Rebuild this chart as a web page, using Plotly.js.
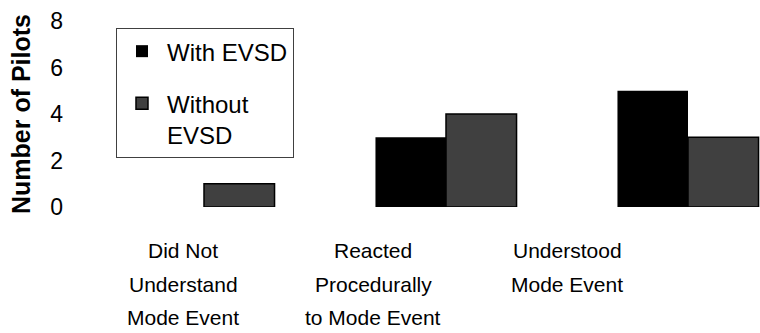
<!DOCTYPE html>
<html>
<head>
<meta charset="utf-8">
<script src="https://cdn.plot.ly/plotly-3.0.1.min.js"></script>
<style>html,body{margin:0;padding:0;background:#fff;}#chart{width:760px;height:333px;}</style>
</head>
<body>
<div id="chart"></div>
<script>
// ---- data ----
const categories = ["Did Not Understand Mode Event", "Reacted Procedurally to Mode Event", "Understood Mode Event"];
const categoryLabelLines = [
  ["Did Not", "Understand", "Mode Event"],
  ["Reacted", "Procedurally", "to Mode Event"],
  ["Understood", "Mode Event"]
];
const withEVSD = [0, 3, 5];
const withoutEVSD = [1, 4, 3];
const seriesNames = ["With EVSD", "Without<br>EVSD"];
const yTicks = [0, 2, 4, 6, 8];

// ---- styles ----
const FONT = "Liberation Sans, Arial, sans-serif";
const labelShiftX = [-21, -73, -121];
const lineShiftY = [-43, -77, -110];

const traces = [
  {type: "bar", x: categories, y: withEVSD, name: seriesNames[0], legendgroup: "a",
   marker: {color: "#000000", line: {color: "#000000", width: 0}}},
  {type: "bar", x: categories, y: withoutEVSD, name: seriesNames[1], legendgroup: "b",
   marker: {color: "#404040", line: {color: "#000000", width: 1.5}}}
];

const annotations = [];
categoryLabelLines.forEach((lines, i) => {
  lines.forEach((t, j) => {
    annotations.push({
      xref: "x", yref: "paper", x: categories[i], y: 0,
      xshift: labelShiftX[i], yshift: lineShiftY[j],
      text: t, showarrow: false, xanchor: "center", yanchor: "middle",
      font: {family: FONT, size: 21, color: "#000"}
    });
  });
});

const layout = {
  width: 760, height: 333,
  margin: {l: 64, r: 0, t: 21, b: 126},
  paper_bgcolor: "#ffffff", plot_bgcolor: "#ffffff",
  barmode: "group", bargap: 0.417, bargroupgap: 0,
  font: {family: FONT, size: 20, color: "#000"},
  xaxis: {type: "category", range: [-0.5785, 2.2975], showticklabels: false,
          showline: false, showgrid: false, zeroline: false, ticks: ""},
  yaxis: {range: [0, 8], tickvals: yTicks, ticktext: yTicks.map(String),
          showline: false, showgrid: false, zeroline: false, ticks: "",
          tickfont: {family: FONT, size: 23, color: "#000"},
          title: {text: "<b>Number of Pilots</b>", standoff: 12,
                  font: {family: FONT, size: 25, color: "#000"}}},
  showlegend: true,
  legend: {x: 0.0747, y: 0.962, xanchor: "left", yanchor: "top",
           bgcolor: "#ffffff", bordercolor: "#404040", borderwidth: 1,
           font: {family: FONT, size: 24, color: "#000"},
           valign: "top", tracegroupgap: 18, traceorder: "grouped",
           itemwidth: 40},
  annotations: annotations
};

Plotly.newPlot("chart", traces, layout, {displayModeBar: false, staticPlot: true});
</script>
</body>
</html>
